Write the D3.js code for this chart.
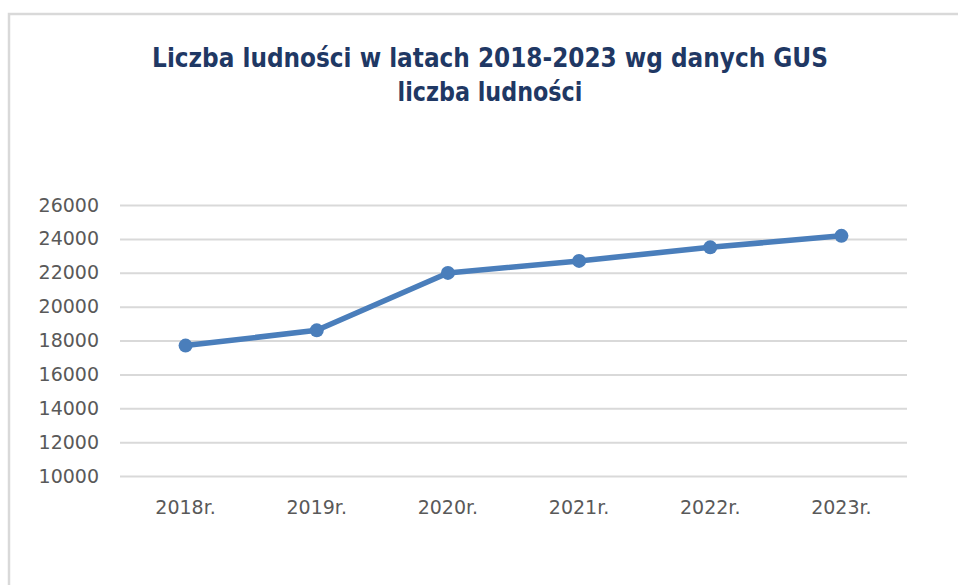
<!DOCTYPE html>
<html><head><meta charset="utf-8">
<script src="https://cdn.jsdelivr.net/npm/d3@7"></script>
<style>html,body{margin:0;padding:0;background:#fff;}</style>
</head><body>
<svg id="c" width="958" height="585"></svg>
<script>
const categories = ["2018r.", "2019r.", "2020r.", "2021r.", "2022r.", "2023r."];
const population = [17700, 18600, 21990, 22700, 23500, 24180];
const yTicks = [10000, 12000, 14000, 16000, 18000, 20000, 22000, 24000, 26000];
const titleLines = ["Liczba ludności  w latach 2018-2023 wg danych GUS", "liczba ludności"];

(function () {
const svg = d3.select("#c");
// chart frame
svg.append("rect").attr("x", 9).attr("y", 14).attr("width", 1000).attr("height", 600)
  .attr("fill", "#fff").attr("stroke", "#d9d9d9").attr("stroke-width", 2.5);

const pl = 120, pr = 907, pt = 205, pb = 476;
const x = d3.scaleBand().domain(categories).range([pl, pr]);
const y = d3.scaleLinear().domain([10000, 26000]).range([pb, pt]);
const axisFont = "'DejaVu Sans', sans-serif";

// gridlines
const yAxis = d3.axisLeft(y).tickValues(yTicks).tickSize(-(pr - pl)).tickPadding(21).tickFormat(d3.format("d"));
const gy = svg.append("g").attr("transform", `translate(${pl},0)`).call(yAxis);
gy.select(".domain").remove();
gy.selectAll(".tick line").attr("stroke", "#d9d9d9").attr("stroke-width", 2);
gy.selectAll(".tick text").attr("fill", "#595959").style("font-family", axisFont).style("font-size", "19px");

const xAxis = d3.axisBottom(x).tickSize(0).tickPadding(25);
const gx = svg.append("g").attr("transform", `translate(0,${pb})`).call(xAxis);
gx.select(".domain").remove();
gx.selectAll(".tick text").attr("fill", "#595959").style("font-family", axisFont).style("font-size", "19px");

const cx = d => x(d) + x.bandwidth() / 2;
const line = d3.line().x((d, i) => cx(categories[i])).y(d => y(d));
svg.append("path").datum(population).attr("d", line).attr("fill", "none")
  .attr("stroke", "#4a7ebb").attr("stroke-width", 5.5).attr("stroke-linejoin", "round");
svg.selectAll("circle.pt").data(population).enter().append("circle").attr("class", "pt")
  .attr("cx", (d, i) => cx(categories[i])).attr("cy", d => y(d)).attr("r", 7).attr("fill", "#4a7ebb");

// title
const targetW = [676, 185];
const baselines = [67, 101];
titleLines.forEach((t, i) => {
  const g = svg.append("g").attr("transform", `translate(490,${baselines[i]})`);
  const el = g.append("text").attr("x", 0).attr("y", 0).attr("text-anchor", "middle")
    .attr("fill", "#1f3864").style("font-family", "'DejaVu Sans Condensed', 'DejaVu Sans', sans-serif")
    .style("font-weight", "bold").style("font-size", "27px").text(t);
  const w = el.node().getComputedTextLength();
  g.attr("transform", `translate(490,${baselines[i]}) scale(${(targetW[i] / w).toFixed(4)},1)`);
});
})();
</script>
</body></html>
